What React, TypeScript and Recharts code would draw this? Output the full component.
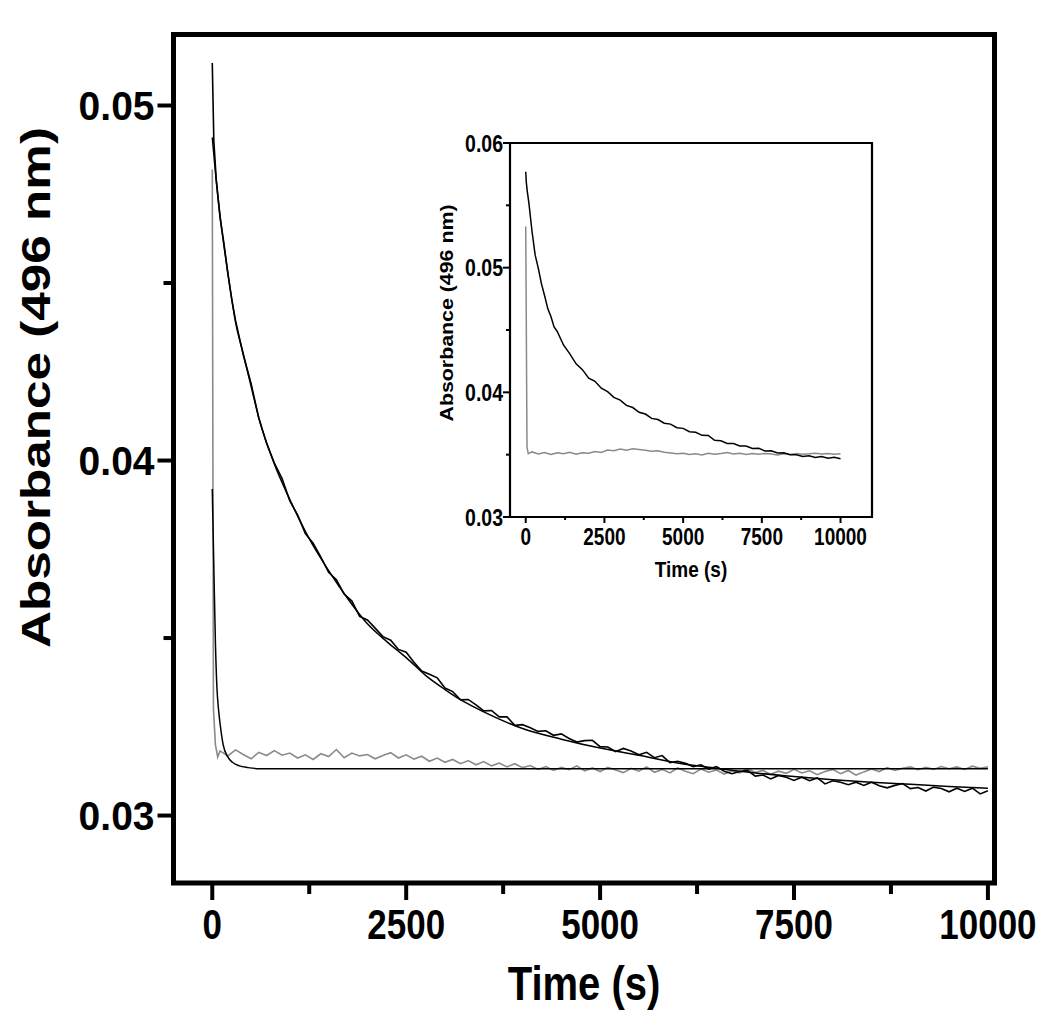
import React from "react";
import { LineChart, Line, XAxis, YAxis, ReferenceArea } from "recharts";

// ---- data: [time (s), absorbance] ----
const mainXTicks = [0, 1250, 2500, 3750, 5000, 6250, 7500, 8750, 10000];
const mainXMajor = [0, 2500, 5000, 7500, 10000];
const mainYTicks = [0.03, 0.035, 0.04, 0.045, 0.05];
const mainYMajor = [0.03, 0.04, 0.05];

const insetXTicks = [0, 1250, 2500, 3750, 5000, 6250, 7500, 8750, 10000];
const insetXMajor = [0, 2500, 5000, 7500, 10000];
const insetYTicks = [0.03, 0.035, 0.04, 0.045, 0.05, 0.055, 0.06];
const insetYMajor = [0.03, 0.04, 0.05, 0.06];

// slow trace (black, measured)
const slowData = [
  [0, 0.0512], [10, 0.0501], [20, 0.049], [50, 0.04795], [100, 0.04685], [150, 0.04612],
  [200, 0.04528], [250, 0.04455], [300, 0.04394], [400, 0.04297], [500, 0.04217], [600, 0.04119],
  [700, 0.04049], [800, 0.03993], [900, 0.03949], [1000, 0.03886], [1100, 0.03847], [1200, 0.03794],
  [1300, 0.03767], [1400, 0.03728], [1500, 0.03685], [1600, 0.03664], [1700, 0.03624], [1800, 0.03604],
  [1900, 0.03561], [2000, 0.03551], [2100, 0.03528], [2200, 0.03504], [2300, 0.03494], [2400, 0.03468],
  [2500, 0.0346], [2600, 0.03432], [2700, 0.03407], [2800, 0.03398], [2900, 0.03388], [3000, 0.03359],
  [3100, 0.03349], [3200, 0.03326], [3300, 0.03327], [3400, 0.03312], [3500, 0.03295], [3600, 0.03296],
  [3700, 0.03278], [3800, 0.03278], [3900, 0.03254], [4000, 0.03256], [4100, 0.03247], [4200, 0.03237],
  [4300, 0.03239], [4400, 0.03226], [4500, 0.0323], [4600, 0.03217], [4700, 0.03207], [4800, 0.03211],
  [4900, 0.03212], [5000, 0.03194], [5100, 0.03193], [5200, 0.0318], [5300, 0.03189], [5400, 0.03182],
  [5500, 0.03171], [5600, 0.03178], [5700, 0.03163], [5800, 0.03169], [5900, 0.03149], [6000, 0.03153],
  [6100, 0.03147], [6200, 0.03138], [6300, 0.03143], [6400, 0.03131], [6500, 0.03138], [6600, 0.03125],
  [6700, 0.03118], [6800, 0.03124], [6900, 0.03127], [7000, 0.03111], [7100, 0.03114], [7200, 0.03103],
  [7300, 0.03113], [7400, 0.03108], [7500, 0.03099], [7600, 0.03108], [7700, 0.03098], [7800, 0.03106],
  [7900, 0.03089], [8000, 0.03098], [8100, 0.03094], [8200, 0.03087], [8300, 0.03094], [8400, 0.03085],
  [8500, 0.03094], [8600, 0.03084], [8700, 0.03078], [8800, 0.03085], [8900, 0.0309], [9000, 0.03076],
  [9100, 0.03079], [9200, 0.03069], [9300, 0.0308], [9400, 0.03076], [9500, 0.03067], [9600, 0.03077],
  [9700, 0.03068], [9800, 0.03077], [9900, 0.03061], [10000, 0.0307],
];

// fitted curve through the slow trace
const slowFit = [
  [0, 0.0491], [50, 0.0479], [100, 0.0469], [200, 0.0453], [300, 0.0439], [400, 0.043],
  [500, 0.0421], [600, 0.0412], [800, 0.0399], [1000, 0.0389], [1250, 0.0378], [1500, 0.0369],
  [1750, 0.0361], [2000, 0.0354], [2250, 0.0349], [2500, 0.03445], [2750, 0.03395], [3000, 0.03355],
  [3250, 0.0332], [3500, 0.03292], [4000, 0.03245], [4500, 0.03215], [5000, 0.0319], [5500, 0.0317],
  [6000, 0.03148], [6500, 0.03133], [7000, 0.0312], [7500, 0.0311], [8000, 0.03101], [8500, 0.03094],
  [9000, 0.03088], [9500, 0.03082], [10000, 0.03077],
];

// fast trace (grey, measured)
const fastData = [
  [0, 0.0482], [15, 0.033], [40, 0.032], [70, 0.03165], [100, 0.03182], [200, 0.03168], [300, 0.03185],
  [400, 0.03172], [500, 0.0316], [600, 0.03178], [700, 0.03169], [800, 0.03183], [900, 0.0317],
  [1000, 0.03176], [1100, 0.03162], [1200, 0.03171], [1300, 0.03158], [1400, 0.03174], [1500, 0.03166],
  [1600, 0.03186], [1700, 0.03163], [1800, 0.03176], [1900, 0.03168], [2000, 0.03172], [2100, 0.0316],
  [2200, 0.03169], [2300, 0.03177], [2400, 0.03162], [2500, 0.03171], [2600, 0.03159], [2700, 0.03167],
  [2800, 0.03153], [2900, 0.03162], [3000, 0.0315], [3100, 0.03158], [3200, 0.03146], [3300, 0.03155],
  [3400, 0.03143], [3500, 0.03152], [3600, 0.0314], [3700, 0.03148], [3800, 0.03137], [3900, 0.03146],
  [4000, 0.03135], [4100, 0.03141], [4200, 0.0313], [4300, 0.03138], [4400, 0.03127], [4500, 0.03136],
  [4600, 0.03129], [4700, 0.0314], [4800, 0.03126], [4900, 0.03134], [5000, 0.03124], [5100, 0.03136],
  [5200, 0.03128], [5300, 0.03121], [5400, 0.03133], [5500, 0.03125], [5600, 0.03137], [5700, 0.03122],
  [5800, 0.0313], [5900, 0.0312], [6000, 0.03134], [6100, 0.03125], [6200, 0.03118], [6300, 0.03131],
  [6400, 0.03122], [6500, 0.03128], [6600, 0.03117], [6700, 0.03126], [6800, 0.0312], [6900, 0.03132],
  [7000, 0.03121], [7100, 0.03127], [7200, 0.03116], [7300, 0.03125], [7400, 0.03119], [7500, 0.0313],
  [7600, 0.0312], [7700, 0.03126], [7800, 0.03115], [7900, 0.03124], [8000, 0.0313], [8100, 0.03118],
  [8200, 0.03127], [8300, 0.03114], [8400, 0.03123], [8500, 0.03131], [8600, 0.03124], [8700, 0.03135],
  [8800, 0.03127], [8900, 0.03133], [9000, 0.03137], [9100, 0.03129], [9200, 0.03136], [9300, 0.0313],
  [9400, 0.03138], [9500, 0.03132], [9600, 0.03137], [9700, 0.0313], [9800, 0.03139], [9900, 0.03133],
  [10000, 0.03137],
];

// fitted curve through the fast trace
const fastFit = [
  [0, 0.0392], [20, 0.037], [40, 0.0349], [60, 0.0336], [80, 0.033], [100, 0.0326], [140, 0.032],
  [200, 0.03165], [260, 0.0315], [350, 0.0314], [460, 0.03135], [600, 0.03132], [10000, 0.03132],
];

// inset traces
const insetSlow = [
  [0, 0.0577], [20, 0.0568], [50, 0.0561], [100, 0.0552], [200, 0.0529], [300, 0.051], [400, 0.04995],
  [500, 0.0487], [600, 0.04775], [700, 0.04672], [800, 0.04608], [900, 0.04525], [1000, 0.04488],
  [1200, 0.0438], [1400, 0.04308], [1600, 0.04229], [1800, 0.04182], [2000, 0.04114], [2200, 0.04088],
  [2400, 0.04033], [2600, 0.04006], [2800, 0.0396], [3000, 0.03937], [3200, 0.03895], [3400, 0.03878],
  [3600, 0.0384], [3800, 0.03826], [4000, 0.03791], [4200, 0.03782], [4400, 0.03752], [4600, 0.03745],
  [4800, 0.03716], [5000, 0.03711], [5200, 0.03684], [5400, 0.0368], [5600, 0.03655], [5800, 0.03654],
  [6000, 0.03615], [6200, 0.03612], [6400, 0.0359], [6600, 0.0359], [6800, 0.0357], [7000, 0.03569],
  [7200, 0.0355], [7400, 0.03551], [7600, 0.0353], [7800, 0.03532], [8000, 0.03514], [8200, 0.03516],
  [8400, 0.035], [8600, 0.035], [8800, 0.03486], [9000, 0.03492], [9200, 0.03478], [9400, 0.03485],
  [9600, 0.03472], [9800, 0.0348], [10000, 0.03468],
];

const insetFast = [
  [0, 0.0533], [40, 0.0356], [80, 0.03508], [200, 0.03522], [400, 0.03505], [600, 0.03518],
  [800, 0.03502], [1000, 0.03515], [1200, 0.03508], [1400, 0.0352], [1600, 0.03504], [1800, 0.03516],
  [2000, 0.03512], [2200, 0.03525], [2400, 0.03518], [2600, 0.03538], [2800, 0.03532], [3000, 0.03545],
  [3200, 0.03536], [3400, 0.03548], [3600, 0.03541], [3800, 0.03535], [4000, 0.03527], [4200, 0.03532],
  [4400, 0.0352], [4600, 0.03514], [4800, 0.03507], [5000, 0.03512], [5200, 0.03502], [5400, 0.03508],
  [5600, 0.03498], [5800, 0.03511], [6000, 0.03504], [6200, 0.0351], [6400, 0.03518], [6600, 0.03506],
  [6800, 0.03512], [7000, 0.03502], [7200, 0.03509], [7400, 0.03503], [7600, 0.0351], [7800, 0.03505],
  [8000, 0.03498], [8200, 0.03508], [8400, 0.03502], [8600, 0.0351], [8800, 0.03504], [9000, 0.03507],
  [9200, 0.03512], [9400, 0.03505], [9600, 0.0351], [9800, 0.03504], [10000, 0.03508],
];

const toRows = (pairs: number[][]) => pairs.map(([t, a]) => ({ t, a }));

const FONT = "'Liberation Sans', Arial, sans-serif";
const GREY = "#8a8a8a";

type TickOpts = {
  majors: number[];
  major: number;
  minor: number;
  sw: number;
  fs: number;
  off: number; // label offset from axis
  base: number; // baseline shift
  sy: number;
  fmt: (v: number) => string;
};

const makeXTick = (o: TickOpts) => (p: any) => {
  const v = p.payload.value;
  const big = o.majors.includes(v);
  return (
    <g>
      <line x1={p.x} x2={p.x} y1={p.y} y2={p.y + (big ? o.major : o.minor)} stroke="#000" strokeWidth={o.sw} />
      {big && (
        <text
          transform={`translate(${p.x},${p.y + o.off}) scale(1,${o.sy})`}
          textAnchor="middle"
          fontFamily={FONT}
          fontWeight="bold"
          fontSize={o.fs}
          fill="#000"
        >
          {o.fmt(v)}
        </text>
      )}
    </g>
  );
};

const makeYTick = (o: TickOpts) => (p: any) => {
  const v = p.payload.value;
  const big = o.majors.includes(v);
  return (
    <g>
      <line x1={p.x} x2={p.x - (big ? o.major : o.minor)} y1={p.y} y2={p.y} stroke="#000" strokeWidth={o.sw} />
      {big && (
        <text
          transform={`translate(${p.x - o.off},${p.y + o.base}) scale(1,${o.sy})`}
          textAnchor="end"
          fontFamily={FONT}
          fontWeight="bold"
          fontSize={o.fs}
          fill="#000"
        >
          {o.fmt(v)}
        </text>
      )}
    </g>
  );
};

const mainXTick = makeXTick({ majors: mainXMajor, major: 17, minor: 11, sw: 4, fs: 35, off: 56, base: 0, sy: 1.22, fmt: (v) => String(v) });
const mainYTick = makeYTick({ majors: mainYMajor, major: 16, minor: 10, sw: 4, fs: 39, off: 19, base: 14.5, sy: 1.03, fmt: (v) => v.toFixed(2) });
const insetXTick = makeXTick({ majors: insetXMajor, major: 6, minor: 3, sw: 2, fs: 19, off: 28, base: 0, sy: 1.22, fmt: (v) => String(v) });
const insetYTick = makeYTick({ majors: insetYMajor, major: 7, minor: 4, sw: 2, fs: 19.5, off: 7, base: 8.5, sy: 1.18, fmt: (v) => v.toFixed(2) });

export default function App() {
  return (
    <div style={{ position: "relative", width: 1034, height: 1012 }}>
      <LineChart width={1034} height={1012} margin={{ top: 26.5, right: 47.5, bottom: 0, left: 15.5 }}>
        <XAxis
          type="number"
          dataKey="t"
          domain={[-500, 10085]}
          ticks={mainXTicks}
          interval={0}
          height={137}
          tickSize={0}
          tickMargin={0}
          axisLine={false}
          tickLine={false}
          tick={mainXTick}
          label={{
            content: ({ viewBox }: any) => (
              <text
                transform={`translate(${viewBox.x + viewBox.width / 2},${viewBox.y + 117}) scale(1,1.22)`}
                textAnchor="middle"
                fontFamily={FONT}
                fontWeight="bold"
                fontSize={40}
              >
                Time (s)
              </text>
            ),
          }}
        />
        <YAxis
          type="number"
          domain={[0.0281, 0.052]}
          ticks={mainYTicks}
          interval={0}
          width={150}
          tickSize={0}
          tickMargin={0}
          axisLine={false}
          tickLine={false}
          tick={mainYTick}
          label={{
            content: ({ viewBox }: any) => (
              <text
                transform={`translate(${viewBox.x + 26.5},${viewBox.y + 353}) rotate(-90) scale(1.25,1)`}
                textAnchor="middle"
                fontFamily={FONT}
                fontWeight="bold"
                fontSize={41}
              >
                Absorbance (496 nm)
              </text>
            ),
          }}
        />
        <ReferenceArea x1={-500} x2={10085} y1={0.0281} y2={0.052} fill="none" stroke="#000" strokeWidth={5} />
        <Line data={toRows(fastData)} dataKey="a" stroke={GREY} strokeWidth={1.6} dot={false} isAnimationActive={false} />
        <Line data={toRows(slowData)} dataKey="a" stroke="#000" strokeWidth={1.6} dot={false} isAnimationActive={false} />
        <Line data={toRows(fastFit)} dataKey="a" type="monotone" stroke="#000" strokeWidth={1.5} dot={false} isAnimationActive={false} />
        <Line data={toRows(slowFit)} dataKey="a" type="monotone" stroke="#000" strokeWidth={1.5} dot={false} isAnimationActive={false} />
      </LineChart>

      <div style={{ position: "absolute", left: 412, top: 117 }}>
        <LineChart width={470} height={480} margin={{ top: 18, right: 18, bottom: 0, left: 0 }}>
          <XAxis
            type="number"
            dataKey="t"
            domain={[-500, 11000]}
            ticks={insetXTicks}
            interval={0}
            height={88}
            tickSize={0}
            tickMargin={0}
            axisLine={false}
            tickLine={false}
            tick={insetXTick}
            label={{
              content: ({ viewBox }: any) => (
                <text
                  transform={`translate(${viewBox.x + viewBox.width / 2},${viewBox.y + 60}) scale(1,1.15)`}
                  textAnchor="middle"
                  fontFamily={FONT}
                  fontWeight="bold"
                  fontSize={19}
                >
                  Time (s)
                </text>
              ),
            }}
          />
          <YAxis
            type="number"
            domain={[0.03, 0.06]}
            ticks={insetYTicks}
            interval={0}
            width={90}
            tickSize={0}
            tickMargin={0}
            axisLine={false}
            tickLine={false}
            tick={insetYTick}
            label={{
              content: ({ viewBox }: any) => (
                <text
                  transform={`translate(${viewBox.x + 33},${viewBox.y + 170}) rotate(-90) scale(1.22,1)`}
                  textAnchor="middle"
                  fontFamily={FONT}
                  fontWeight="bold"
                  fontSize={17.5}
                >
                  Absorbance (496 nm)
                </text>
              ),
            }}
          />
          <ReferenceArea x1={-500} x2={11000} y1={0.03} y2={0.06} fill="none" stroke="#000" strokeWidth={2.2} />
          <Line data={toRows(insetFast)} dataKey="a" stroke={GREY} strokeWidth={1.5} dot={false} isAnimationActive={false} />
          <Line data={toRows(insetSlow)} dataKey="a" stroke="#000" strokeWidth={1.5} dot={false} isAnimationActive={false} />
        </LineChart>
      </div>
    </div>
  );
}
